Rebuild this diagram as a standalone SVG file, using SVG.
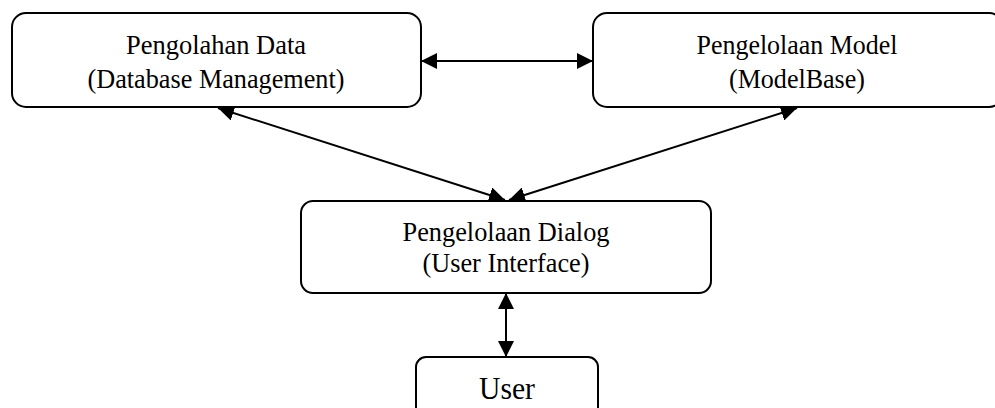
<svg xmlns="http://www.w3.org/2000/svg" width="995" height="408" viewBox="0 0 995 408">
  <style>
    .box { fill: #ffffff; stroke: #000000; stroke-width: 2; }
    .lbl { font-family: "Liberation Serif", "Times New Roman", serif; font-size: 28px; fill: #000000; text-anchor: middle; }
    .big { font-size: 31px; }
    .link { stroke: #000000; stroke-width: 2; fill: none; marker-start: url(#head); marker-end: url(#head); }
  </style>
  <defs>
    <marker id="head" markerUnits="userSpaceOnUse" markerWidth="16" markerHeight="16" refX="16" refY="8" orient="auto-start-reverse" viewBox="0 0 16 16">
      <path d="M0,0 L16,8 L0,16 z" fill="#000000"/>
    </marker>
  </defs>
  <rect width="995" height="408" fill="#ffffff"/>

  <!-- two-way links between the subsystems -->
  <g id="connectors">
    <line class="link" x1="421" y1="61" x2="593" y2="61"/>
    <line class="link" x1="218" y1="108" x2="505" y2="200"/>
    <line class="link" x1="797" y1="108" x2="509" y2="200"/>
    <line class="link" x1="506" y1="293" x2="506" y2="357"/>
  </g>

  <g id="node-data">
    <rect class="box" x="12" y="13" width="409" height="94" rx="14"/>
    <text class="lbl" x="216" y="54" textLength="180" lengthAdjust="spacingAndGlyphs">Pengolahan Data</text>
    <text class="lbl" x="216" y="88" textLength="257" lengthAdjust="spacingAndGlyphs">(Database Management)</text>
  </g>

  <g id="node-model">
    <rect class="box" x="593" y="13" width="410" height="94" rx="14"/>
    <text class="lbl" x="797" y="54" textLength="201" lengthAdjust="spacingAndGlyphs">Pengelolaan Model</text>
    <text class="lbl" x="797" y="88" textLength="136" lengthAdjust="spacingAndGlyphs">(ModelBase)</text>
  </g>

  <g id="node-dialog">
    <rect class="box" x="301" y="201" width="410" height="92" rx="12"/>
    <text class="lbl" x="506" y="241" textLength="207" lengthAdjust="spacingAndGlyphs">Pengelolaan Dialog</text>
    <text class="lbl" x="506" y="272" textLength="167" lengthAdjust="spacingAndGlyphs">(User Interface)</text>
  </g>

  <g id="node-user">
    <rect class="box" x="416" y="357" width="182" height="70" rx="10"/>
    <text class="lbl big" x="507" y="399" textLength="56" lengthAdjust="spacingAndGlyphs">User</text>
  </g>
</svg>
